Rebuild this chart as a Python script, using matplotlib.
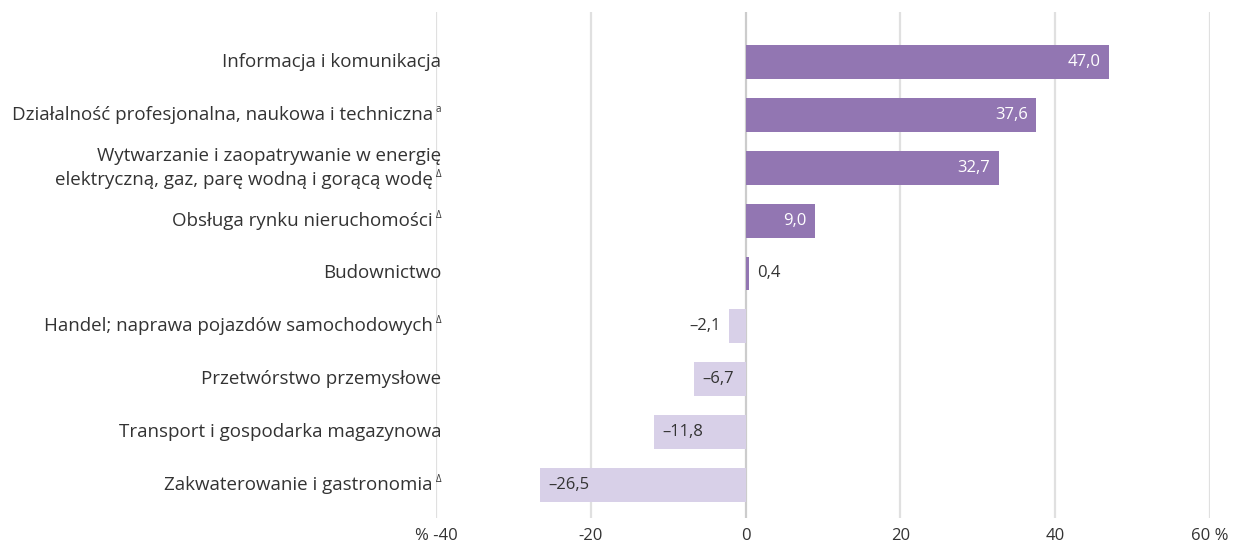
import matplotlib
matplotlib.use("Agg")
import matplotlib.pyplot as plt
from matplotlib.transforms import offset_copy

plt.rcParams['font.family'] = ['Open Sans', 'DejaVu Sans']

# Data
categories = [
    "Informacja i komunikacja",
    "Działalność profesjonalna, naukowa i techniczna",
    "Wytwarzanie i zaopatrywanie w energię\nelektryczną, gaz, parę wodną i gorącą wodę",
    "Obsługa rynku nieruchomości",
    "Budownictwo",
    "Handel; naprawa pojazdów samochodowych",
    "Przetwórstwo przemysłowe",
    "Transport i gospodarka magazynowa",
    "Zakwaterowanie i gastronomia",
]
marks = ["", "a", "Δ", "Δ", "", "Δ", "", "", "Δ"]
values = [47.0, 37.6, 32.7, 9.0, 0.4, -2.1, -6.7, -11.8, -26.5]
xticks = [-40, -20, 0, 20, 40, 60]
xtick_labels = ["% -40", "-20", "0", "20", "40", "60 %"]

pos_color = "#9276B2"
neg_color = "#D8D0E8"
text_color = "#333333"
fs = 13.5
vfs = 12

fig = plt.figure(figsize=(12.37, 5.44), dpi=100)
ax = fig.add_axes([0.3525, 0.0478, 0.978 - 0.3525, 0.978 - 0.0478])

ypos = list(range(len(values)))
colors = [pos_color if v >= 0 else neg_color for v in values]
ax.barh(ypos, values, height=0.64, color=colors, zorder=3)

ax.set_xlim(-40, 60)
ax.set_ylim(8.624, -0.946)
ax.set_xticks(xticks)
ax.set_xticklabels(xtick_labels, fontsize=12, color=text_color)
ax.tick_params(axis='x', length=0, pad=7)
ax.set_yticks([])
for s in ax.spines.values():
    s.set_visible(False)
for t in xticks:
    ax.axvline(t, color="#cccccc" if t == 0 else "#e0e0e0", lw=1.6, zorder=1)

# category labels, one text per line; the mark sits after the last line
xlab = -40 + (441 - 436) / 7.74
line_gap = 17.3  # points between lines
for i, (cat, m) in enumerate(zip(categories, marks)):
    lines = cat.split("\n")
    n = len(lines)
    for k, line in enumerate(lines):
        dy = ((n - 1) / 2 - k) * line_gap
        last = k == n - 1
        shift = -6 if (m and last) else 0
        tr = offset_copy(ax.transData, fig=fig, x=shift, y=dy, units='points')
        ax.text(xlab, i, line, ha='right', va='center', fontsize=fs, color=text_color,
                transform=tr, clip_on=False)
        if m and last:
            trm = offset_copy(ax.transData, fig=fig, x=0, y=dy + 4, units='points')
            ax.text(xlab, i, m, ha='right', va='center', fontsize=7, color=text_color,
                    transform=trm, clip_on=False)

# value labels
for i, v in enumerate(values):
    txt = f"{abs(v):.1f}".replace(".", ",")
    if v < 0:
        txt = "–" + txt
    if v >= 5:
        tr = offset_copy(ax.transData, fig=fig, x=-6, y=0, units='points')
        ax.text(v, i, txt, ha='right', va='center', fontsize=vfs, color='white', transform=tr, zorder=4)
    elif v >= 0:
        tr = offset_copy(ax.transData, fig=fig, x=6, y=0, units='points')
        ax.text(v, i, txt, ha='left', va='center', fontsize=vfs, color=text_color, transform=tr, zorder=4)
    elif v <= -5:
        tr = offset_copy(ax.transData, fig=fig, x=6, y=0, units='points')
        ax.text(v, i, txt, ha='left', va='center', fontsize=vfs, color=text_color, transform=tr, zorder=4)
    else:
        tr = offset_copy(ax.transData, fig=fig, x=-6, y=0, units='points')
        ax.text(v, i, txt, ha='right', va='center', fontsize=vfs, color=text_color, transform=tr, zorder=4)

fig.savefig("out.png", dpi=100)
